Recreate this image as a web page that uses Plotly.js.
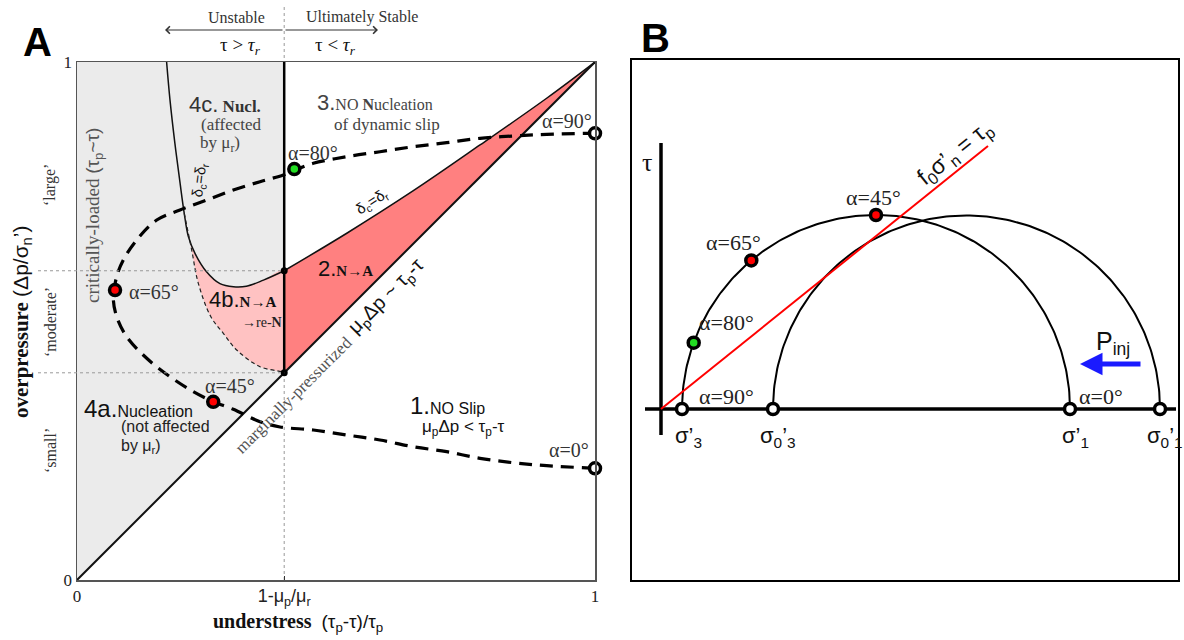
<!DOCTYPE html>
<html><head><meta charset="utf-8">
<script src="https://cdn.plot.ly/plotly-3.0.1.min.js"></script>
<style>body{margin:0;background:#fff}#chart{width:1184px;height:640px}</style>
</head><body><div id="chart"></div>
<script>
// ---------------- Panel A data ----------------
const xTickVals = [0, 0.4, 1];
const xTickText = ['0', '<span style="font-family:Liberation Sans;font-size:18px">1-μ<sub>p</sub>/μ<sub>r</sub></span>', '1'];
const yTickVals = [0, 1];
const yTickText = ['0', '1'];
const xCrit = 0.4;          // 1 - mu_p/mu_r
const yLowJunction = 0.4;   // marginally-pressurized at xCrit
const yHighJunction = 0.597;// delta_c = delta_r at xCrit

// delta_c = delta_r, left branch (top down to junction)
const leftCurveX = [0.173, 0.1795, 0.189, 0.199, 0.207, 0.215, 0.228, 0.250, 0.276, 0.302, 0.327, 0.360, 0.4];
const leftCurveY = [1.0, 0.927, 0.843, 0.766, 0.708, 0.663, 0.630, 0.595, 0.572, 0.566, 0.567, 0.579, 0.597];
const splitIndex = 4;
// dashed lower boundary of region 4b
const dashedX = [0.207, 0.2214, 0.2342, 0.2587, 0.2824, 0.3083, 0.3533, 0.3952, 0.4];
const dashedY = [0.708, 0.637, 0.5728, 0.5077, 0.4763, 0.4440, 0.4118, 0.4021, 0.4];
// delta_c = delta_r, right branch
const rightCurveX = [0.4, 0.5216, 0.6486, 0.7780, 0.9073, 1.0];
const rightCurveY = [0.597, 0.6699, 0.7510, 0.8398, 0.9305, 1.0];
// alpha path (dashed)
const alphaPathX = [1.0, 0.9068, 0.8423, 0.7780, 0.7137, 0.6492, 0.5849, 0.5207, 0.4562, 0.3919, 0.3533, 0.3017, 0.2631, 0.2245, 0.1795, 0.1346, 0.0959, 0.0766, 0.0701, 0.0766, 0.0894, 0.1153, 0.1539, 0.1988, 0.2504, 0.3017, 0.3533, 0.3983, 0.4176, 0.4562, 0.5207, 0.5849, 0.6492, 0.7137, 0.7780, 0.8423, 0.9068, 1.0];
const alphaPathY = [0.2156, 0.2207, 0.2264, 0.2349, 0.2477, 0.2573, 0.2703, 0.2799, 0.2896, 0.2954, 0.3056, 0.3295, 0.3442, 0.3635, 0.3925, 0.4280, 0.4697, 0.5083, 0.5444, 0.5855, 0.6178, 0.6564, 0.6950, 0.7143, 0.7336, 0.7529, 0.7689, 0.7819, 0.790, 0.8044, 0.8172, 0.8268, 0.8365, 0.8442, 0.8527, 0.8571, 0.8604, 0.8624];
const alphaMarkX = [1.0, 0.263, 0.0734, 0.4195, 1.0];
const alphaMarkY = [0.2156, 0.344, 0.5598, 0.7934, 0.8624];
const alphaMarkColor = ['#ffffff', '#ff0000', '#ff0000', '#22dd22', '#ffffff'];

// ---------------- Panel B data ----------------
const sigma3 = 2.1, sigma1 = 40.9;     // current Mohr circle
const sigma03 = 11.2, sigma01 = 49.9;  // initial Mohr circle
const alphaB = [90, 80, 65, 45, 0];
const alphaBColor = ['#ffffff', '#22dd22', '#ff0000', '#ff0000', '#ffffff'];
const frictionSlope = 0.804;
const frictionEnd = 32.7;
const tauAxisY = [-2.6, 26.6];
const sigmaAxisX = [-1.6, 51.5];
const pinjFrom = 48.1, pinjTo = 41.9, pinjLevel = 4.5;

// ---------------- helpers ----------------
const W = 1184, H = 640;
const P = (px, py) => ({x: px / W, y: 1 - py / H});
const SERIF = 'Liberation Serif', SANS = 'Liberation Sans';
function semicircle(s3, s1) {
  const c = (s1 + s3) / 2, r = (s1 - s3) / 2, xs = [], ys = [];
  for (let i = 0; i <= 180; i++) { const t = Math.PI * i / 180; xs.push(c + r * Math.cos(t)); ys.push(r * Math.sin(t)); }
  return {x: xs, y: ys};
}

const traces = [];
// gray region
traces.push({x: [0, xCrit, xCrit, 0, 0], y: [0, yLowJunction, 1, 1, 0], mode: 'lines', fill: 'toself', fillcolor: '#ebebeb', line: {width: 0}, hoverinfo: 'skip', xaxis: 'x', yaxis: 'y'});
// pink 4b region
{
  const px = leftCurveX.slice(splitIndex).concat([xCrit]).concat(dashedX.slice(0, -1).reverse());
  const py = leftCurveY.slice(splitIndex).concat([yLowJunction]).concat(dashedY.slice(0, -1).reverse());
  traces.push({x: px, y: py, mode: 'lines', fill: 'toself', fillcolor: '#ffc2c2', line: {width: 0, shape: 'spline'}, hoverinfo: 'skip', xaxis: 'x', yaxis: 'y'});
}
// red region 2
traces.push({x: rightCurveX.concat([xCrit]), y: rightCurveY.concat([yLowJunction]), mode: 'lines', fill: 'toself', fillcolor: '#ff8080', line: {width: 0}, hoverinfo: 'skip', xaxis: 'x', yaxis: 'y'});
// boundaries
traces.push({x: [0, 1], y: [0, 1], mode: 'lines', line: {color: '#111', width: 2}, xaxis: 'x', yaxis: 'y'});
traces.push({x: [xCrit, xCrit], y: [yLowJunction, 1], mode: 'lines', line: {color: '#000', width: 2.5}, xaxis: 'x', yaxis: 'y'});
traces.push({x: leftCurveX, y: leftCurveY, mode: 'lines', line: {color: '#111', width: 1.5, shape: 'spline'}, xaxis: 'x', yaxis: 'y'});
traces.push({x: rightCurveX, y: rightCurveY, mode: 'lines', line: {color: '#111', width: 1.5, shape: 'spline'}, xaxis: 'x', yaxis: 'y'});
traces.push({x: dashedX, y: dashedY, mode: 'lines', line: {color: '#222', width: 1.2, dash: '4px,3px', shape: 'spline'}, xaxis: 'x', yaxis: 'y'});
// alpha path
traces.push({x: alphaPathX, y: alphaPathY, mode: 'lines', line: {color: '#000', width: 3.2, dash: '13px,8px', shape: 'spline'}, xaxis: 'x', yaxis: 'y'});
// junction dots
traces.push({x: [xCrit, xCrit], y: [yLowJunction, yHighJunction], mode: 'markers', marker: {color: '#000', size: 7}, cliponaxis: false, xaxis: 'x', yaxis: 'y'});
// alpha markers
traces.push({x: alphaMarkX, y: alphaMarkY, mode: 'markers', marker: {color: alphaMarkColor, size: 11, line: {color: '#000', width: 3.5}}, cliponaxis: false, xaxis: 'x', yaxis: 'y'});

// Panel B
const circNow = semicircle(sigma3, sigma1), circInit = semicircle(sigma03, sigma01);
traces.push({x: tauAxisY.map(() => 0), y: tauAxisY, mode: 'lines', line: {color: '#000', width: 3.5}, xaxis: 'x2', yaxis: 'y2'});
traces.push({x: sigmaAxisX, y: [0, 0], mode: 'lines', line: {color: '#000', width: 3.5}, xaxis: 'x2', yaxis: 'y2'});
traces.push({x: circNow.x, y: circNow.y, mode: 'lines', line: {color: '#000', width: 2}, xaxis: 'x2', yaxis: 'y2'});
traces.push({x: circInit.x, y: circInit.y, mode: 'lines', line: {color: '#000', width: 2}, xaxis: 'x2', yaxis: 'y2'});
traces.push({x: [0, frictionEnd], y: [0, frictionSlope * frictionEnd], mode: 'lines', line: {color: '#ff0000', width: 2}, xaxis: 'x2', yaxis: 'y2'});
{
  const c = (sigma1 + sigma3) / 2, r = (sigma1 - sigma3) / 2;
  const mx = alphaB.map(a => c + r * Math.cos(2 * a * Math.PI / 180));
  const my = alphaB.map(a => r * Math.sin(2 * a * Math.PI / 180));
  traces.push({x: mx.concat([sigma03, sigma01]), y: my.concat([0, 0]), mode: 'markers',
    marker: {color: alphaBColor.concat(['#ffffff', '#ffffff']), size: 11, line: {color: '#000', width: 3.5}}, cliponaxis: false, xaxis: 'x2', yaxis: 'y2'});
}

// ---------------- annotations ----------------
const ann = [];
const base = (extra) => Object.assign({showarrow: false, xanchor: 'center', yanchor: 'middle'}, extra || {});
const A = (x, y, text, size, family, extra) => Object.assign(base({x, y, xref: 'x', yref: 'y', text, font: {size, family, color: '#111'}}), extra || {});
const B = (x, y, text, size, family, extra) => Object.assign(base({x, y, xref: 'x2', yref: 'y2', text, font: {size, family, color: '#111'}}), extra || {});
const Pp = (px, py, text, size, family, extra) => { const p = P(px, py); return Object.assign(base({x: p.x, y: p.y, xref: 'paper', yref: 'paper', text, font: {size, family, color: '#111'}}), extra || {}); };

ann.push(Pp(37, 42, '<b>A</b>', 40, SANS, {font: {size: 40, family: SANS, color: '#000'}}));
ann.push(Pp(655, 38, '<b>B</b>', 40, SANS, {font: {size: 40, family: SANS, color: '#000'}}));
// top
ann.push(Pp(236, 17, 'Unstable', 16, SERIF, {font: {size: 16, family: SERIF, color: '#333'}}));
ann.push(Pp(362, 17, 'Ultimately Stable', 16, SERIF, {font: {size: 16, family: SERIF, color: '#333'}}));
ann.push(Pp(240, 46, 'τ &gt; <i>τ</i><sub><i>r</i></sub>', 19, SERIF));
ann.push(Pp(335, 46, 'τ &lt; <i>τ</i><sub><i>r</i></sub>', 19, SERIF));
{
  const h1 = P(165, 30), h2 = P(378, 30);
  ann.push({x: h1.x, y: h1.y, xref: 'paper', yref: 'paper', ax: 119, ay: 0, showarrow: true, arrowhead: 4, arrowsize: 1.2, arrowwidth: 1.2, arrowcolor: '#333', text: ''});
  ann.push({x: h2.x, y: h2.y, xref: 'paper', yref: 'paper', ax: -94, ay: 0, showarrow: true, arrowhead: 4, arrowsize: 1.2, arrowwidth: 1.2, arrowcolor: '#333', text: ''});
}
// axis titles
ann.push(Pp(298, 622, '<b>understress</b>  <span style="font-family:Liberation Sans;font-size:19px">(τ<sub>p</sub>-τ)/τ<sub>p</sub></span>', 20, SERIF));
ann.push(Pp(22, 322, '<b>overpressure</b> <span style="font-family:Liberation Sans">(Δp/σ<sub>n</sub>’)</span>', 21, SERIF, {textangle: -90}));
ann.push(Pp(50, 185, '‘large’', 16, SERIF, {textangle: -90, font: {size: 16, family: SERIF, color: '#333'}}));
ann.push(Pp(50, 322, '‘moderate’', 16, SERIF, {textangle: -90, font: {size: 16, family: SERIF, color: '#333'}}));
ann.push(Pp(50, 451, '‘small’', 16, SERIF, {textangle: -90, font: {size: 16, family: SERIF, color: '#333'}}));
ann.push(Pp(94, 216, 'critically-loaded <span style="font-family:Liberation Sans;font-size:19px">(τ<sub>p</sub>~τ)</span>', 19, SERIF, {textangle: -90, font: {size: 19, family: SERIF, color: '#555'}}));

// regions
const SS = (t, s) => '<span style="font-family:Liberation Sans;font-size:' + s + 'px">' + t + '</span>';
ann.push(A(0.286, 0.917, SS('4c.', 22) + ' <b>Nucl.</b>', 17, SERIF, {font: {size: 17, family: SERIF, color: '#333'}}));
ann.push(A(0.299, 0.880, '(affected', 17, SERIF, {font: {size: 17, family: SERIF, color: '#444'}}));
ann.push(A(0.276, 0.842, 'by μ<sub>r</sub>)', 17, SERIF, {font: {size: 17, family: SERIF, color: '#444'}}));
ann.push(A(0.575, 0.921, SS('3.', 22) + 'NO <b>N</b>ucleation', 16, SERIF, {font: {size: 16, family: SERIF, color: '#444'}}));
ann.push(A(0.598, 0.880, 'of dynamic slip', 17, SERIF, {font: {size: 17, family: SERIF, color: '#444'}}));
ann.push(A(0.519, 0.602, SS('2.', 22) + '<b>N→A</b>', 15, SERIF, {font: {size: 15, family: SERIF, color: '#111'}}));
ann.push(A(0.319, 0.541, SS('4b.', 22) + '<b>N→A</b>', 15, SERIF, {font: {size: 15, family: SERIF, color: '#111'}}));
ann.push(A(0.357, 0.498, '→re-<b>N</b>', 14, SERIF, {font: {size: 14, family: SERIF, color: '#222'}}));
ann.push(A(0.0097, 0.332, SS('4a.', 24) + 'Nucleation', 16, SANS, {xanchor: 'left'}));
ann.push(A(0.081, 0.297, '(not affected', 16, SANS, {xanchor: 'left', font: {size: 16, family: SANS, color: '#222'}}));
ann.push(A(0.081, 0.257, 'by μ<sub>r</sub>)', 16, SANS, {xanchor: 'left', font: {size: 16, family: SANS, color: '#222'}}));
ann.push(A(0.639, 0.336, SS('1.', 24) + 'NO Slip', 16, SANS, {xanchor: 'left'}));
ann.push(A(0.662, 0.293, 'μ<sub>p</sub>Δp &lt; τ<sub>p</sub>-τ', 17, SANS, {xanchor: 'left'}));
// alpha labels A
const aFont = {size: 20, family: SERIF, color: '#333'};
ann.push(A(0.950, 0.251, 'α=0°', 20, SERIF, {font: aFont}));
ann.push(A(0.295, 0.375, 'α=45°', 20, SERIF, {font: aFont}));
ann.push(A(0.0965, 0.556, 'α=65°', 20, SERIF, {xanchor: 'left', font: aFont}));
ann.push(A(0.456, 0.824, 'α=80°', 20, SERIF, {font: aFont}));
ann.push(A(0.946, 0.886, 'α=90°', 20, SERIF, {font: aFont}));
// curve labels
ann.push(A(0.236, 0.772, 'δ<sub>c</sub>=δ<sub>r</sub>', 15, SANS, {textangle: -83}));
ann.push(A(0.571, 0.730, 'δ<sub>c</sub>=δ<sub>r</sub>', 15, SANS, {textangle: -33}));
ann.push(A(0.417, 0.357, 'marginally-pressurized', 17, SERIF, {textangle: -45, font: {size: 17, family: SERIF, color: '#555'}}));
ann.push(A(0.598, 0.547, 'μ<sub>p</sub>Δp ~ τ<sub>p</sub>-τ', 20, SANS, {textangle: -45}));

// Panel B labels
const bFont = {size: 22, family: SERIF, color: '#222'};
ann.push(B(-1.4, 24.7, 'τ', 26, SERIF));
ann.push(B(21.2, 21.2, 'α=45°', 22, SERIF, {font: bFont}));
ann.push(B(7.2, 16.7, 'α=65°', 22, SERIF, {font: bFont}));
ann.push(B(3.6, 8.7, 'α=80°', 22, SERIF, {xanchor: 'left', font: bFont}));
ann.push(B(3.6, 1.3, 'α=90°', 22, SERIF, {xanchor: 'left', font: bFont}));
ann.push(B(41.6, 1.3, 'α=0°', 22, SERIF, {xanchor: 'left', font: bFont}));
ann.push(B(2.7, -2.8, 'σ’<sub>3</sub>', 22, SANS));
ann.push(B(11.7, -2.8, 'σ<sub>0</sub>’<sub>3</sub>', 22, SANS));
ann.push(B(41.4, -2.8, 'σ’<sub>1</sub>', 22, SANS));
ann.push(B(50.4, -2.8, 'σ<sub>0</sub>’<sub>1</sub>', 22, SANS));
ann.push(B(45.2, 6.6, 'P<sub>inj</sub>', 25, SANS));
ann.push(B(29.4, 25.6, 'f<sub>0</sub>σ’<sub>n</sub> = τ<sub>p</sub>', 23, SANS, {textangle: -38.8}));
ann.push({x: pinjTo, y: pinjLevel, ax: pinjFrom, ay: pinjLevel, xref: 'x2', yref: 'y2', axref: 'x2', ayref: 'y2', showarrow: true, arrowhead: 2, arrowsize: 0.9, arrowwidth: 5, arrowcolor: '#1a1aff', text: ''});
ann.push({x: sigmaAxisX[1], y: 0, ax: sigmaAxisX[1] - 0.5, ay: 0, xref: 'x2', yref: 'y2', axref: 'x2', ayref: 'y2', showarrow: true, arrowhead: 4, arrowsize: 1, arrowwidth: 2.5, arrowcolor: '#000', text: ''});

// ---------------- shapes (guide lines) ----------------
const shapes = [
  {type: 'line', xref: 'x', yref: 'paper', x0: xCrit, x1: xCrit, y0: 1 - 580 / H, y1: 1 - 6 / H, line: {color: '#999', width: 1, dash: 'dot'}, layer: 'below'},
  {type: 'line', xref: 'paper', yref: 'y domain', x0: 38 / W, x1: (77 + xCrit * 518) / W, y0: yHighJunction, y1: yHighJunction, line: {color: '#999', width: 1, dash: 'dot'}, layer: 'above'},
  {type: 'line', xref: 'paper', yref: 'y domain', x0: 38 / W, x1: (77 + xCrit * 518) / W, y0: yLowJunction, y1: yLowJunction, line: {color: '#999', width: 1, dash: 'dot'}, layer: 'above'}
];

const axCommon = {showgrid: false, zeroline: false, showline: true, mirror: true};
const layout = {
  width: W, height: H, margin: {l: 0, r: 0, t: 0, b: 0}, paper_bgcolor: '#fff', plot_bgcolor: 'rgba(0,0,0,0)', showlegend: false,
  xaxis: Object.assign({}, axCommon, {domain: [77 / W, 595 / W], range: [0, 1], anchor: 'y', linecolor: '#555', linewidth: 1.5,
    tickvals: xTickVals, ticktext: xTickText, ticks: 'inside', ticklen: 4, tickcolor: '#333', tickfont: {family: SERIF, size: 17, color: '#222'}}),
  yaxis: Object.assign({}, axCommon, {domain: [1 - 580 / H, 1 - 62 / H], range: [0, 1], anchor: 'x', linecolor: '#555', linewidth: 1.5,
    tickvals: yTickVals, ticktext: yTickText, ticks: '', tickfont: {family: SERIF, size: 17, color: '#222'}}),
  xaxis2: Object.assign({}, axCommon, {domain: [632 / W, 1178 / W], range: [-2.9, 51.7], anchor: 'y2', linecolor: '#000', linewidth: 2, showticklabels: false, ticks: ''}),
  yaxis2: Object.assign({}, axCommon, {domain: [1 - 580 / H, 1 - 60 / H], range: [-17.1, 34.9], anchor: 'x2', linecolor: '#000', linewidth: 2, showticklabels: false, ticks: ''}),
  annotations: ann, shapes: shapes
};
Plotly.newPlot('chart', traces, layout, {displayModeBar: false, staticPlot: true});
</script></body></html>
